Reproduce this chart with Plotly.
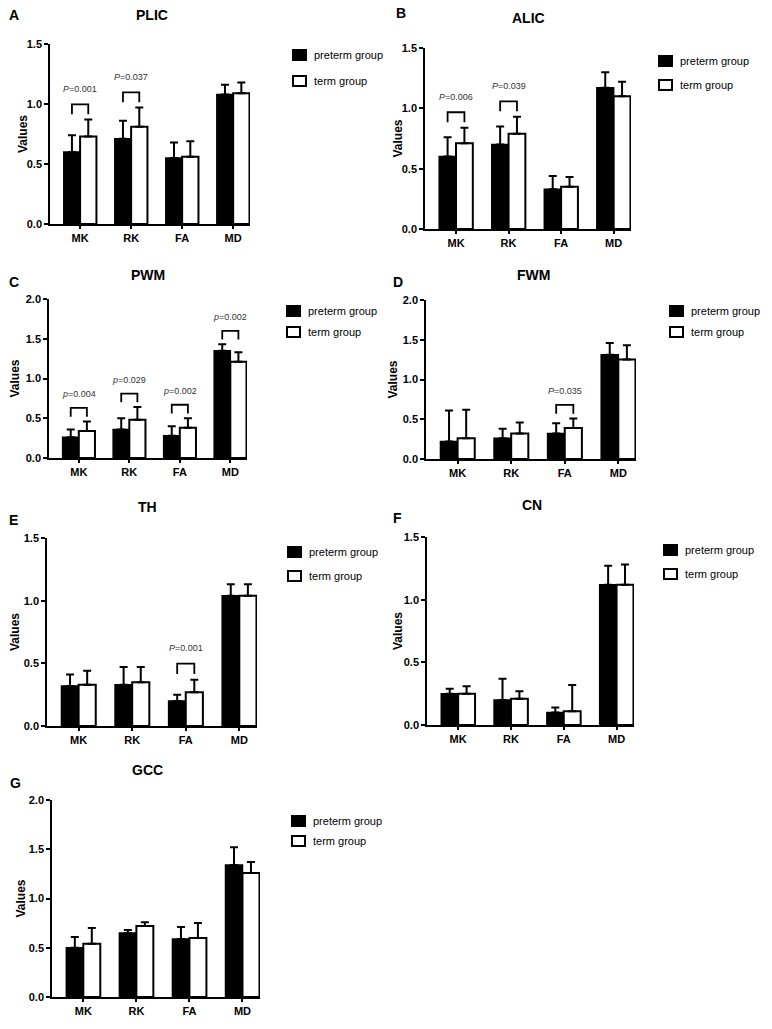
import plotly.graph_objects as go

W, H = 772, 1029
FONT = "Liberation Sans, Arial, sans-serif"

categories = ["MK", "RK", "FA", "MD"]
regions = ["PLIC", "ALIC", "PWM", "FWM", "TH", "CN", "GCC"]
letters = ["A", "B", "C", "D", "E", "F", "G"]
y_max = [1.5, 1.5, 2.0, 2.0, 1.5, 1.5, 2.0]

# means and (upper) SD
plic_preterm = [0.60, 0.71, 0.55, 1.08]
plic_preterm_sd = [0.14, 0.15, 0.13, 0.08]
plic_term = [0.73, 0.81, 0.56, 1.09]
plic_term_sd = [0.14, 0.16, 0.13, 0.09]

alic_preterm = [0.60, 0.70, 0.33, 1.17]
alic_preterm_sd = [0.16, 0.15, 0.11, 0.13]
alic_term = [0.71, 0.79, 0.35, 1.10]
alic_term_sd = [0.13, 0.14, 0.08, 0.12]

pwm_preterm = [0.26, 0.36, 0.28, 1.35]
pwm_preterm_sd = [0.10, 0.14, 0.12, 0.08]
pwm_term = [0.34, 0.48, 0.38, 1.21]
pwm_term_sd = [0.12, 0.16, 0.12, 0.12]

fwm_preterm = [0.22, 0.26, 0.32, 1.31]
fwm_preterm_sd = [0.39, 0.12, 0.13, 0.15]
fwm_term = [0.26, 0.32, 0.39, 1.25]
fwm_term_sd = [0.36, 0.14, 0.12, 0.18]

th_preterm = [0.32, 0.33, 0.20, 1.04]
th_preterm_sd = [0.09, 0.14, 0.05, 0.09]
th_term = [0.33, 0.35, 0.27, 1.04]
th_term_sd = [0.11, 0.12, 0.10, 0.09]

cn_preterm = [0.25, 0.20, 0.10, 1.12]
cn_preterm_sd = [0.04, 0.17, 0.04, 0.15]
cn_term = [0.25, 0.21, 0.11, 1.12]
cn_term_sd = [0.06, 0.06, 0.21, 0.16]

gcc_preterm = [0.50, 0.65, 0.59, 1.34]
gcc_preterm_sd = [0.11, 0.03, 0.12, 0.18]
gcc_term = [0.54, 0.72, 0.60, 1.26]
gcc_term_sd = [0.16, 0.04, 0.15, 0.11]

# significant comparisons: (category, label)
plic_p = [("MK", "<i>P</i>=0.001"), ("RK", "<i>P</i>=0.037")]
alic_p = [("MK", "<i>P</i>=0.006"), ("RK", "<i>P</i>=0.039")]
pwm_p = [("MK", "<i>p</i>=0.004"), ("RK", "<i>p</i>=0.029"),
         ("FA", "<i>p</i>=0.002"), ("MD", "<i>p</i>=0.002")]
fwm_p = [("FA", "<i>P</i>=0.035")]
th_p = [("FA", "<i>P</i>=0.001")]
cn_p = []
gcc_p = []

panels = [
    (plic_preterm, plic_preterm_sd, plic_term, plic_term_sd, plic_p),
    (alic_preterm, alic_preterm_sd, alic_term, alic_term_sd, alic_p),
    (pwm_preterm, pwm_preterm_sd, pwm_term, pwm_term_sd, pwm_p),
    (fwm_preterm, fwm_preterm_sd, fwm_term, fwm_term_sd, fwm_p),
    (th_preterm, th_preterm_sd, th_term, th_term_sd, th_p),
    (cn_preterm, cn_preterm_sd, cn_term, cn_term_sd, cn_p),
    (gcc_preterm, gcc_preterm_sd, gcc_term, gcc_term_sd, gcc_p),
]

# layout in pixels: plot box (x0, x1, ytop, ybottom), title, letter, legend
boxes = [(50, 250, 44, 224), (425, 631, 48, 229), (49, 247, 299, 458),
         (426, 636, 300, 459), (47, 257, 538, 726), (427, 634, 537, 725),
         (52, 260, 800, 997)]
ytitle_x = [23, 397, 14, 392, 15, 398, 20]
title_pos = [(152, 15), (528, 18), (148, 275), (533, 275), (147, 507),
             (532, 505), (147, 770)]
letter_pos = [(7, 15), (394, 13), (7, 282), (391, 282), (7, 520),
              (391, 518), (8, 783)]
legend_pos = [(293, 55, 81), (659, 61, 85), (287, 311, 332), (670, 311, 332),
              (288, 552, 576), (664, 550, 574), (292, 821, 841)]

BARGAP = 0.36
OFF = (1 - BARGAP) / 4


def px(x):
    return x / W


def py(y):
    return 1 - y / H


fig = go.Figure()
shapes = []
annotations = []
xs = list(range(len(categories)))

for i, (pre, pre_sd, term, term_sd, pvals) in enumerate(panels):
    n = i + 1
    xa, ya = f"x{n}", f"y{n}"
    fig.add_trace(go.Bar(
        x=xs, y=pre, xaxis=xa, yaxis=ya, name="preterm group",
        marker=dict(color="black", line=dict(color="black", width=1.5)),
        error_y=dict(type="data", symmetric=False, array=pre_sd,
                     arrayminus=[0] * len(pre), color="black",
                     thickness=2, width=4),
        showlegend=False,
    ))
    fig.add_trace(go.Bar(
        x=xs, y=term, xaxis=xa, yaxis=ya, name="term group",
        marker=dict(color="white", line=dict(color="black", width=2)),
        error_y=dict(type="data", symmetric=False, array=term_sd,
                     arrayminus=[0] * len(term), color="black",
                     thickness=2, width=4),
        showlegend=False,
    ))

    x0, x1, yt, yb = boxes[i]
    ym = y_max[i]
    fig.layout[f"xaxis{n}"] = dict(
        domain=[px(x0), px(x1)], anchor=ya, range=[-0.59, 3.33],
        automargin=False,
        tickvals=xs, ticktext=categories, showline=True, linecolor="black",
        linewidth=1.5, ticks="outside", ticklen=3, tickwidth=1.5,
        tickcolor="black", showgrid=False, zeroline=False,
        tickfont=dict(family=FONT, size=11, color="black", weight="bold"),
    )
    fig.layout[f"yaxis{n}"] = dict(
        domain=[py(yb), py(yt)], anchor=xa, range=[0, ym],
        automargin=False,
        dtick=0.5, tickformat=".1f", showline=True, linecolor="black",
        linewidth=1.5, ticks="outside", ticklen=4, tickwidth=1.5,
        tickcolor="black", showgrid=False, zeroline=False,
        tickfont=dict(family=FONT, size=11, color="black", weight="bold"),
    )
    annotations.append(dict(
        x=px(ytitle_x[i]), y=py((yt + yb) / 2), xref="paper", yref="paper",
        text="Values", textangle=-90, showarrow=False,
        xanchor="center", yanchor="middle",
        font=dict(family=FONT, size=12, color="black", weight="bold"),
    ))

    # significance brackets
    for cat, label in pvals:
        k = categories.index(cat)
        top = max(pre[k] + pre_sd[k], term[k] + term_sd[k])
        leg_bottom = top + 0.03 * ym
        bar_top = leg_bottom + 0.055 * ym
        shapes.append(dict(
            type="path", xref=xa, yref=ya,
            path=(f"M {k - OFF} {leg_bottom} L {k - OFF} {bar_top} "
                  f"L {k + OFF} {bar_top} L {k + OFF} {leg_bottom}"),
            line=dict(color="black", width=1.8),
        ))
        annotations.append(dict(
            x=k, y=bar_top + 0.085 * ym, xref=xa, yref=ya, text=label,
            showarrow=False, xanchor="center", yanchor="middle",
            font=dict(family=FONT, size=9, color="#333333"),
        ))

    tx, ty = title_pos[i]
    annotations.append(dict(
        x=px(tx), y=py(ty), xref="paper", yref="paper", text=regions[i],
        showarrow=False, xanchor="center", yanchor="middle",
        font=dict(family=FONT, size=14, color="black", weight="bold"),
    ))
    lx, ly = letter_pos[i]
    annotations.append(dict(
        x=px(lx), y=py(ly), xref="paper", yref="paper", text=letters[i],
        showarrow=False, xanchor="left", yanchor="middle",
        font=dict(family=FONT, size=14, color="black", weight="bold"),
    ))

    # legend drawn by hand, one per panel
    gx, r1, r2 = legend_pos[i]
    for row, fill, label in [(r1, "black", "preterm group"),
                             (r2, "white", "term group")]:
        shapes.append(dict(
            type="rect", xref="paper", yref="paper",
            x0=px(gx), x1=px(gx + 13), y0=py(row + 5), y1=py(row - 5),
            fillcolor=fill, line=dict(color="black", width=2),
        ))
        annotations.append(dict(
            x=px(gx + 19), y=py(row), xref="paper", yref="paper",
            text=label, showarrow=False, xanchor="left", yanchor="middle",
            font=dict(family=FONT, size=11, color="black"),
        ))

fig.update_layout(
    width=W, height=H,
    margin=dict(l=0, r=0, t=0, b=0, autoexpand=False),
    paper_bgcolor="white", plot_bgcolor="white",
    barmode="group", bargap=BARGAP, bargroupgap=0,
    shapes=shapes, annotations=annotations,
    showlegend=False,
)

# the page's default body margin would push the fixed-size figure off the window
fig.write_html("out.html", config={"displayModeBar": False},
               post_script="document.body.style.margin = '0px';")
